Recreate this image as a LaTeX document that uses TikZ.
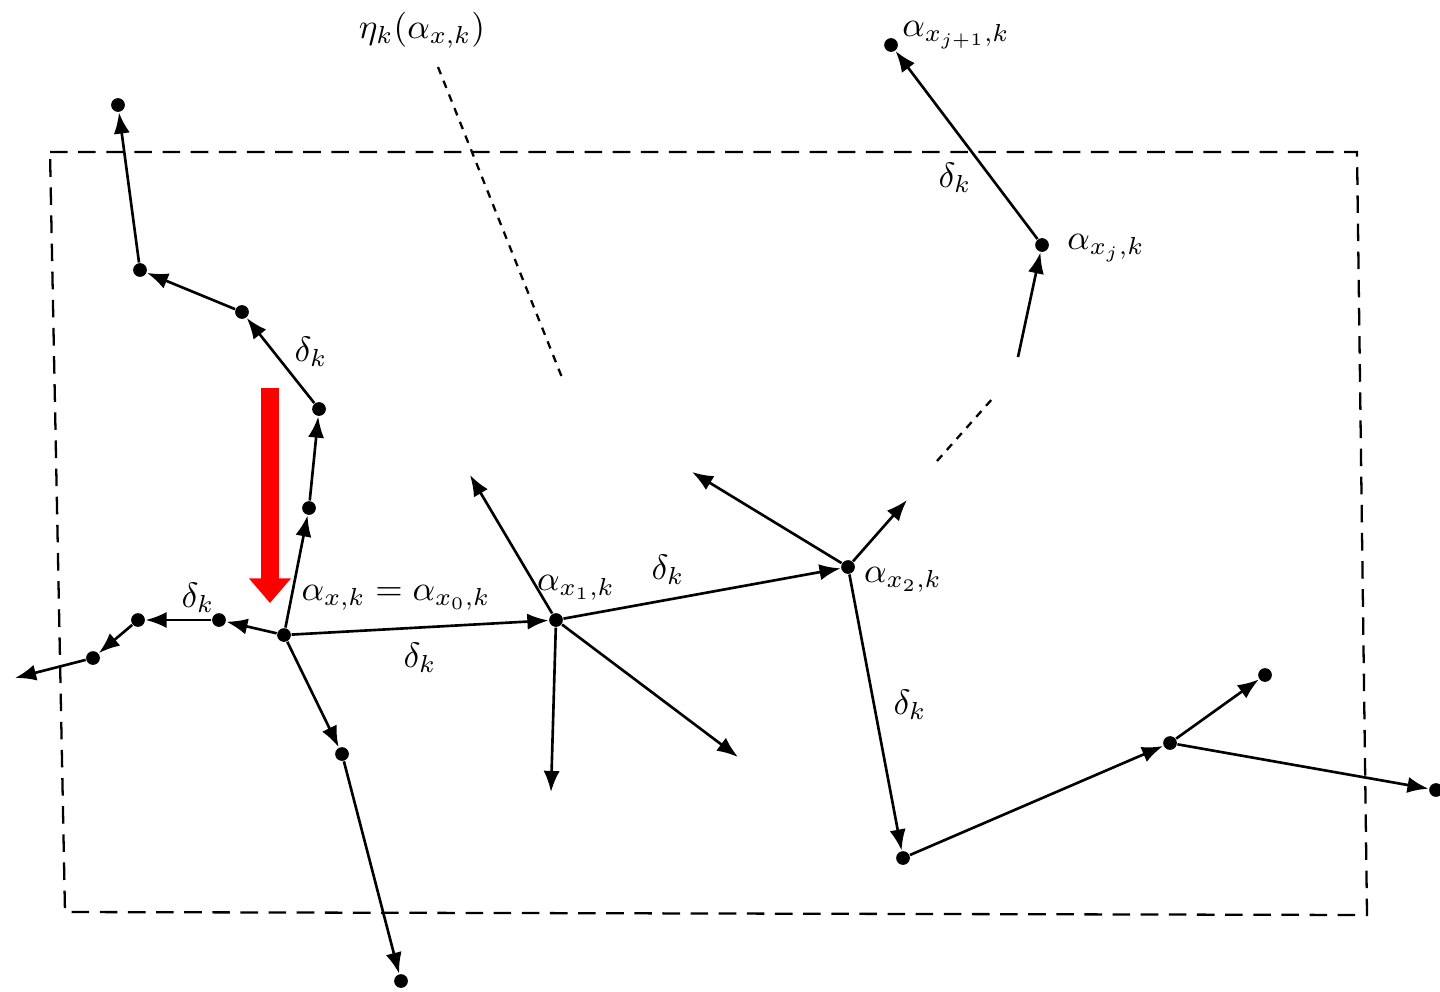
\documentclass[tikz,border=0pt]{standalone}
\usetikzlibrary{arrows.meta}
\begin{document}
\begin{tikzpicture}[x=0.01cm, y=-0.01cm,
  dot/.style={circle, fill=black, inner sep=0pt, minimum size=3.9pt},
  edge/.style={-{Latex[length=6pt,width=4.6pt]}, line width=0.75pt},
  zone/.style={dash pattern=on 5pt off 3pt, line width=0.65pt},
  gap/.style={dash pattern=on 2.2pt off 2pt, line width=0.65pt},
  lbl/.style={inner sep=1pt}
]
\useasboundingbox (0,0) rectangle (1440,991);
% search region
\draw[zone] (50,152) -- (1357,152) -- (1367,915) -- (65,912) -- cycle;

% main points
\node[dot] (x0) at (284,635) {};
\node[dot] (x1) at (556,620) {};
\node[dot] (x2) at (848,567) {};
\node[dot] (xj) at (1042,245) {};
\node[dot] (xjj) at (891,45) {};
% left branch
\node[dot] (l1) at (219,620) {};
\node[dot] (l2) at (138,620) {};
\node[dot] (l3) at (93,658) {};
\coordinate (l4) at (15,678);
% upper branch
\node[dot] (u1) at (309,508) {};
\node[dot] (u2) at (319,409) {};
\node[dot] (u3) at (242,312) {};
\node[dot] (u4) at (140,270) {};
\node[dot] (u5) at (118,105) {};
% lower branch
\node[dot] (d1) at (342,754) {};
\node[dot] (d2) at (401,981) {};
% right branch
\node[dot] (r1) at (903,858) {};
\node[dot] (r2) at (1170,743) {};
\node[dot] (r3) at (1265,675) {};
\node[dot] (r4) at (1436,790) {};
% free ends
\coordinate (a1) at (470,475);
\coordinate (a2) at (551,792);
\coordinate (a3) at (738,757);
\coordinate (b1) at (692,472);
\coordinate (b2) at (907,500);
\coordinate (c1) at (1018,357);
\coordinate (g1) at (937,461);
\coordinate (g2) at (993,398);
\coordinate (e1) at (438,67);
\coordinate (e2) at (563,380);
\coordinate (s1) at (270,388);
\coordinate (s2) at (270,603);

\foreach \a/\b in {x0/x1, x1/x2, x0/l1, l1/l2, l2/l3, l3/l4,
    x0/u1, u1/u2, u2/u3, u3/u4, u4/u5, x0/d1, d1/d2,
    x1/a1, x1/a2, x1/a3, x2/b1, x2/b2, c1/xj, xj/xjj,
    x2/r1, r1/r2, r2/r3, r2/r4}
  \draw[edge] (\a) -- (\b);

\draw[gap] (g1) -- (g2);
\draw[gap] (e1) -- (e2);
\draw[red, line width=5pt, -{Triangle[length=7pt,width=11.5pt]}] (s1) -- (s2);

% labels
\node[lbl] at (396,598) {$\alpha_{x,k}=\alpha_{x_0,k}$};
\node[lbl] at (576,588) {$\alpha_{x_1,k}$};
\node[lbl] at (903,580) {$\alpha_{x_2,k}$};
\node[lbl] at (1106,248) {$\alpha_{x_j,k}$};
\node[lbl] at (956,35) {$\alpha_{x_{j+1},k}$};
\node[lbl] at (422,30) {$\eta_k(\alpha_{x,k})$};
\foreach \p in {(198,598), (311,352), (420,658), (668,570), (910,705), (955,178)}
  \node[lbl] at \p {$\delta_k$};
\end{tikzpicture}
\end{document}
